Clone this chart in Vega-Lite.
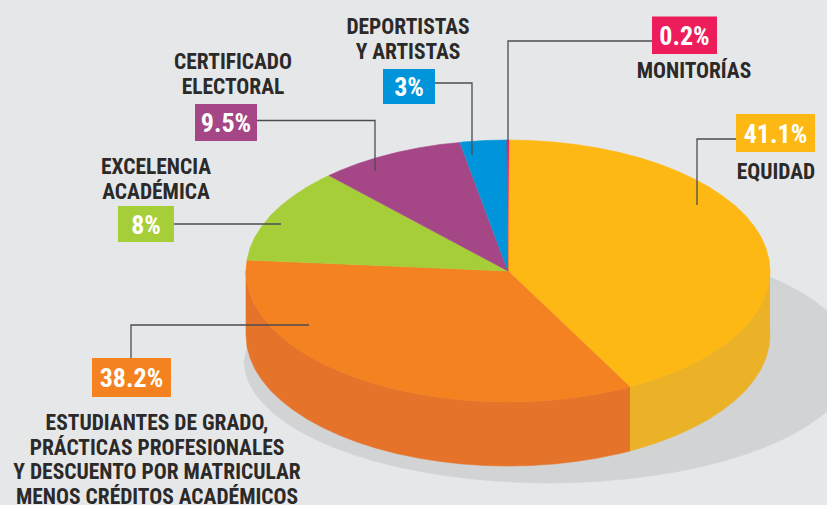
{"$schema":"https://vega.github.io/schema/vega-lite/v6.json","width":827,"height":505,"padding":0,"autosize":{"type":"none"},"background":"#e6e7e9","config":{"view":{"stroke":null}},
"datasets":{
"shapes":[
{"s":"a_shadow","c":"#d1d3d4","pts":[[549,239],[602,240.9],[653.3,246.4],[701.5,255.3],[745,267.5],[764.7,274.7],[782.6,282.6],[798.9,291],[813.1,300],[825.4,309.4],[835.6,319.3],[843.6,329.4],[849.4,339.8],[852.8,350.4],[854,361],[852.8,371.6],[849.4,382.2],[843.6,392.6],[835.6,402.7],[825.4,412.6],[813.1,422],[798.9,431],[782.6,439.4],[764.7,447.3],[745,454.5],[723.9,460.9],[701.5,466.7],[677.9,471.6],[653.3,475.6],[627.9,478.8],[602,481.1],[575.6,482.5],[549,483],[522.4,482.5],[496,481.1],[470.1,478.8],[444.7,475.6],[420.1,471.6],[396.5,466.7],[374.1,460.9],[353,454.5],[333.3,447.3],[315.4,439.4],[299.1,431],[284.9,422],[272.6,412.6],[262.4,402.7],[254.4,392.6],[248.6,382.2],[245.2,371.6],[244,361],[248.6,339.8],[262.4,319.3],[284.9,300],[315.4,282.6],[353,267.5],[396.5,255.3],[444.7,246.4],[496,240.9]]},
{"s":"b_yellowwall","c":"#ebb227","pts":[[770,271],[769,282.4],[766,293.7],[761.1,304.9],[754.2,315.8],[745.5,326.4],[734.9,336.5],[722.6,346.1],[708.7,355.2],[693.3,363.6],[676.4,371.3],[658.3,378.3],[639,384.4],[630,387],[630,451],[639,448.4],[658.3,442.3],[676.4,435.3],[693.3,427.6],[708.7,419.2],[722.6,410.1],[734.9,400.5],[745.5,390.4],[754.2,379.8],[761.1,368.9],[766,357.7],[769,346.4],[770,335]]},
{"s":"c_orangewall","c":"#e6732a","pts":[[630,387],[618.7,389.7],[597.6,394.1],[575.8,397.5],[553.5,400],[530.8,401.5],[508,402],[485.2,401.5],[462.5,400],[440.2,397.5],[418.4,394.1],[397.3,389.7],[377,384.4],[357.7,378.3],[339.6,371.3],[322.7,363.6],[307.3,355.2],[293.4,346.1],[281.1,336.5],[270.5,326.4],[261.8,315.8],[254.9,304.9],[250,293.7],[247,282.4],[246,271],[246,335],[247,346.4],[250,357.7],[254.9,368.9],[261.8,379.8],[270.5,390.4],[281.1,400.5],[293.4,410.1],[307.3,419.2],[322.7,427.6],[339.6,435.3],[357.7,442.3],[377,448.4],[397.3,453.7],[418.4,458.1],[440.2,461.5],[462.5,464],[485.2,465.5],[508,466],[530.8,465.5],[553.5,464],[575.8,461.5],[597.6,458.1],[618.7,453.7],[630,451]]},
{"s":"d_equidad","c":"#fdb813","pts":[[508,271],[509,140],[530.8,140.5],[553.5,142],[575.8,144.5],[597.6,147.9],[618.7,152.3],[639,157.6],[658.3,163.7],[676.4,170.7],[693.3,178.4],[708.7,186.8],[722.6,195.9],[734.9,205.5],[745.5,215.6],[754.2,226.2],[761.1,237.1],[766,248.3],[769,259.6],[770,271],[769,282.4],[766,293.7],[761.1,304.9],[754.2,315.8],[745.5,326.4],[734.9,336.5],[722.6,346.1],[708.7,355.2],[693.3,363.6],[676.4,371.3],[658.3,378.3],[639,384.4],[630,387]]},
{"s":"e_estudiantes","c":"#f58220","pts":[[508,271],[630,387],[618.7,389.7],[597.6,394.1],[575.8,397.5],[553.5,400],[530.8,401.5],[508,402],[485.2,401.5],[462.5,400],[440.2,397.5],[418.4,394.1],[397.3,389.7],[377,384.4],[357.7,378.3],[339.6,371.3],[322.7,363.6],[307.3,355.2],[293.4,346.1],[281.1,336.5],[270.5,326.4],[261.8,315.8],[254.9,304.9],[250,293.7],[247,282.4],[246,271],[247,260]]},
{"s":"f_excelencia","c":"#a6ce39","pts":[[508,271],[247,260],[250,248.3],[254.9,237.1],[261.8,226.2],[270.5,215.6],[281.1,205.5],[293.4,195.9],[307.3,186.8],[322.7,178.4],[329,175.5]]},
{"s":"g_certificado","c":"#a54686","pts":[[508,271],[329,175.5],[339.6,170.7],[357.7,163.7],[377,157.6],[397.3,152.3],[418.4,147.9],[440.2,144.5],[460,142.5]]},
{"s":"h_deportistas","c":"#0095da","pts":[[508,271],[460,142.5],[462.5,142],[485.2,140.5],[507,140]]},
{"s":"i_monitorias","c":"#ed1c5a","pts":[[508,271],[507,140],[509,140]]}
],
"leaders":[
{"l":"monitorias","pts":[[508,140],[508,41],[652,41]]},
{"l":"deportistas","pts":[[435,83],[472,83],[472,155]]},
{"l":"certificado","pts":[[257,120.5],[375,120.5],[375,171]]},
{"l":"excelencia","pts":[[174,224],[281,224]]},
{"l":"estudiantes","pts":[[131,358],[131,325],[309,325]]},
{"l":"equidad","pts":[[736,139],[697,139],[697,205]]}
],
"boxes":[
{"pct":"0.2%","x":652,"x2":717,"y":16.5,"y2":54,"c":"#ed1c5a"},
{"pct":"3%","x":383,"x2":435,"y":69,"y2":104,"c":"#0095da"},
{"pct":"9.5%","x":195,"x2":257,"y":104,"y2":141,"c":"#a54686"},
{"pct":"8%","x":118,"x2":174,"y":206,"y2":242,"c":"#a6ce39"},
{"pct":"38.2%","x":92,"x2":171,"y":358,"y2":397,"c":"#f58220"},
{"pct":"41.1%","x":736,"x2":815,"y":114,"y2":152,"c":"#fdb813"}
],
"labels":[
{"t":"DEPORTISTAS\nY ARTISTAS","x":408,"y":28},
{"t":"MONITORÍAS","x":694,"y":71.5},
{"t":"CERTIFICADO\nELECTORAL","x":233,"y":63},
{"t":"EQUIDAD","x":776,"y":172.5},
{"t":"EXCELENCIA\nACADÉMICA","x":156,"y":168},
{"t":"ESTUDIANTES DE GRADO,\nPRÁCTICAS PROFESIONALES\nY DESCUENTO POR MATRICULAR\nMENOS CRÉDITOS ACADÉMICOS","x":157,"y":424}
]},
"layer":[
{"data":{"name":"shapes"},"transform":[{"flatten":["pts"]},{"window":[{"op":"row_number","as":"o"}]},{"calculate":"datum.pts[0]","as":"px"},{"calculate":"datum.pts[1]","as":"py"}],
"mark":{"type":"line","filled":true,"strokeWidth":0.6,"clip":true,"interpolate":"linear"},
"encoding":{"x":{"field":"px","type":"quantitative","scale":{"domain":[0,827]},"axis":null},"y":{"field":"py","type":"quantitative","scale":{"domain":[505,0]},"axis":null},"order":{"field":"o","type":"quantitative"},"fill":{"field":"c","type":"nominal","scale":null},"stroke":{"field":"c","type":"nominal","scale":null},"detail":{"field":"s"}}},
{"data":{"name":"leaders"},"transform":[{"flatten":["pts"]},{"window":[{"op":"row_number","as":"o"}]},{"calculate":"datum.pts[0]","as":"px"},{"calculate":"datum.pts[1]","as":"py"}],
"mark":{"type":"line","color":"#4d4d4f","strokeWidth":1.3},
"encoding":{"x":{"field":"px","type":"quantitative","scale":{"domain":[0,827]},"axis":null},"y":{"field":"py","type":"quantitative","scale":{"domain":[505,0]},"axis":null},"order":{"field":"o","type":"quantitative"},"detail":{"field":"l"}}},
{"data":{"name":"boxes"},"mark":{"type":"rect"},
"encoding":{"x":{"field":"x","type":"quantitative","scale":{"domain":[0,827]},"axis":null},"x2":{"field":"x2"},"y":{"field":"y","type":"quantitative","scale":{"domain":[505,0]},"axis":null},"y2":{"field":"y2"},"fill":{"field":"c","type":"nominal","scale":null}}},
{"data":{"name":"boxes"},"transform":[{"calculate":"(datum.x+datum.x2)/2","as":"cx"},{"calculate":"(datum.y+datum.y2)/2","as":"cy"}],
"mark":{"type":"text","font":"Roboto Condensed, Roboto","fontWeight":"bold","fontSize":26,"dy":1.5,"color":"#ffffff","align":"center","baseline":"middle"},
"encoding":{"x":{"field":"cx","type":"quantitative","scale":{"domain":[0,827]},"axis":null},"y":{"field":"cy","type":"quantitative","scale":{"domain":[505,0]},"axis":null},"text":{"field":"pct"}}},
{"data":{"name":"labels"},
"mark":{"type":"text","font":"Roboto Condensed, Roboto","fontWeight":"bold","fontSize":21.5,"color":"#2b2a29","align":"center","baseline":"middle","lineBreak":"\n","lineHeight":24.6},
"encoding":{"x":{"field":"x","type":"quantitative","scale":{"domain":[0,827]},"axis":null},"y":{"field":"y","type":"quantitative","scale":{"domain":[505,0]},"axis":null},"text":{"field":"t"}}}
]}
